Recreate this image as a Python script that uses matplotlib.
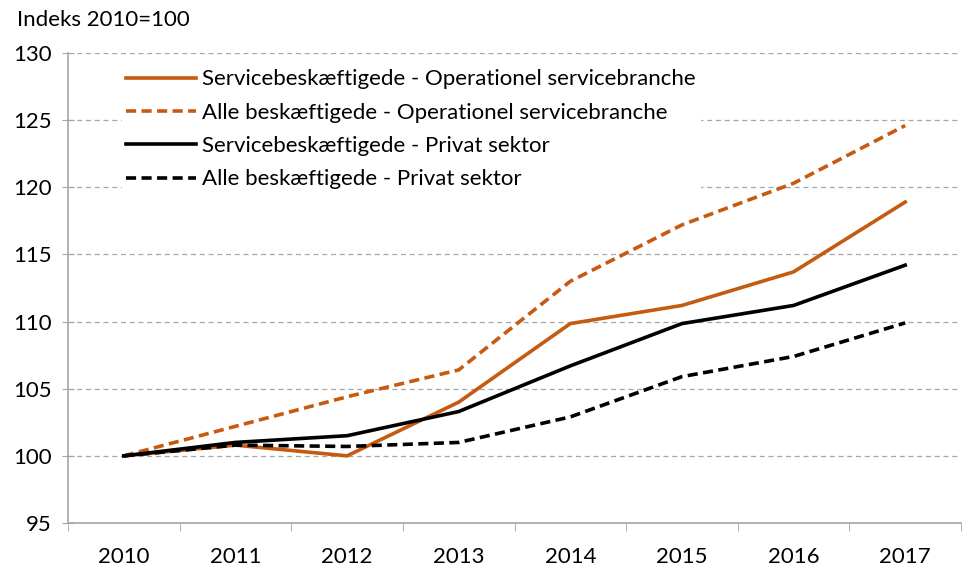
import matplotlib.pyplot as plt
import numpy as np

plt.rcParams['font.family'] = ['Lato', 'DejaVu Sans']

years = ['2010', '2011', '2012', '2013', '2014', '2015', '2016', '2017']
service_ops = [100.0, 100.8, 100.0, 104.0, 109.85, 111.2, 113.7, 118.9]
alle_ops = [100.0, 102.2, 104.4, 106.4, 113.0, 117.2, 120.3, 124.6]
service_priv = [100.0, 101.0, 101.5, 103.3, 106.7, 109.85, 111.2, 114.2]
alle_priv = [100.0, 100.8, 100.7, 101.0, 102.9, 105.9, 107.4, 109.9]

orange = '#C55A11'
grid_col = '#A6A6A6'
fs = 16

fig = plt.figure(figsize=(9.63, 5.67), dpi=100)
ax = fig.add_axes([68 / 963, 1 - 523 / 567, 893 / 963, 470 / 567])

x = np.arange(len(years))
dash = (0, (2.8, 1.5))
ax.plot(x, service_ops, color=orange, lw=2.6, label='Servicebeskæftigede - Operationel servicebranche')
ax.plot(x, alle_ops, color=orange, lw=2.6, ls=dash, label='Alle beskæftigede - Operationel servicebranche')
ax.plot(x, service_priv, color='black', lw=2.6, label='Servicebeskæftigede - Privat sektor')
ax.plot(x, alle_priv, color='black', lw=2.6, ls=dash, label='Alle beskæftigede - Privat sektor')

ax.set_xlim(-0.5, len(years) - 0.5)
ax.set_ylim(95, 130)
ax.set_yticks(np.arange(95, 131, 5))
ax.set_xticks(x)
ax.set_xticklabels(years)
ax.set_xticks(np.arange(-0.5, len(years), 1), minor=True)
ax.tick_params(axis='x', which='major', length=0, pad=17, labelsize=fs)
ax.tick_params(axis='x', which='minor', length=6, color=grid_col, direction='out')
ax.tick_params(axis='y', length=8, direction='inout', color=grid_col, labelsize=fs, pad=8)

ax.yaxis.grid(True, color=grid_col, ls=(0, (4, 3)), lw=0.9)
ax.set_axisbelow(True)
for s in ['top', 'right']:
    ax.spines[s].set_visible(False)
for s in ['left', 'bottom']:
    ax.spines[s].set_color(grid_col)
    ax.spines[s].set_linewidth(1.2)

leg = ax.legend(loc='upper left', bbox_to_anchor=(0.048, 0.998), frameon=True, fontsize=fs,
                handlelength=3.15, handletextpad=0.25, labelspacing=0.6, borderpad=0.2)
leg.get_frame().set_edgecolor('white')
leg.get_frame().set_facecolor('white')
leg.get_frame().set_alpha(1)

fig.text(17 / 963, 1 - 20 / 567, 'Indeks 2010=100', fontsize=fs, va='center', ha='left')

fig.savefig('out.png', dpi=100)
